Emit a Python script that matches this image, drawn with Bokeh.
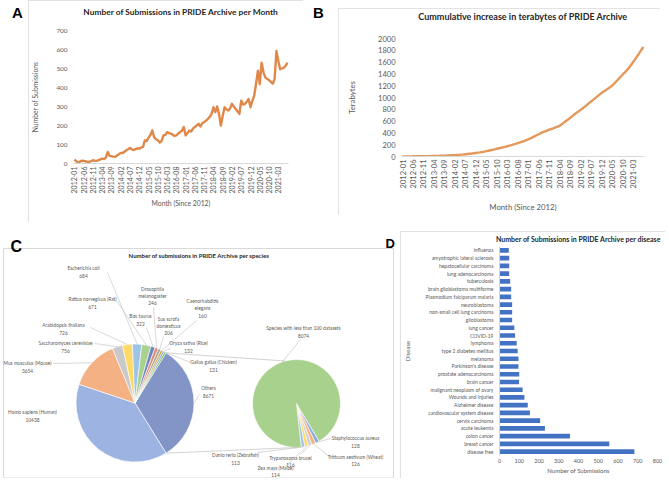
import numpy as np
from bokeh.plotting import figure
from bokeh.models import Range1d, FactorRange, FixedTicker, Div, Spacer, Title, AllLabels
from bokeh.layouts import row, column
from bokeh.embed import file_html
from bokeh.resources import INLINE
from bokeh.core.properties import value

# ---------------- DATA ----------------
# A: submissions per month, 2012-01 .. 2021-08
submissions_per_month = [
    21, 12, 3, 10, 15, 14, 12, 8, 9, 12, 17, 15,            # 2012
    14, 18, 22, 26, 24, 31, 61, 40, 38, 36, 35, 42,         # 2013
    49, 56, 55, 62, 70, 75, 82, 74, 71, 76, 80, 78,         # 2014
    84, 87, 122, 118, 136, 150, 174, 139, 128, 122, 110, 118,  # 2015
    148, 150, 165, 160, 157, 152, 145, 148, 158, 165, 172, 192,  # 2016
    148, 160, 174, 168, 185, 192, 200, 209, 195, 212, 218, 225,  # 2017
    235, 245, 261, 296, 270, 300, 261, 200, 250, 296, 285, 279,  # 2018
    290, 314, 300, 287, 275, 261, 331, 310, 314, 325, 340, 296,  # 2019
    330, 357, 420, 488, 418, 531, 480, 453, 445, 439, 430, 420,  # 2020
    444, 592, 540, 496, 500, 505, 515, 531,                      # 2021
]
# B: cumulative terabytes, 2012-01 .. 2021-08
terabytes_cumulative = [
    0, 1, 1, 2, 2, 3, 3, 4, 4, 5, 5, 6,
    6, 7, 8, 9, 10, 11, 12, 13, 15, 16, 18, 20,
    22, 24, 26, 28, 31, 34, 38, 42, 46, 50, 55, 60,
    65, 70, 76, 82, 90, 98, 106, 114, 122, 132, 140, 148,
    156, 164, 174, 184, 194, 204, 214, 226, 238, 250, 262, 276,
    290, 306, 324, 342, 360, 378, 396, 412, 426, 440, 454, 466,
    478, 492, 506, 520, 546, 574, 602, 628, 654, 684, 712, 740,
    762, 790, 818, 846, 874, 904, 932, 960, 990, 1020, 1048, 1076,
    1100, 1124, 1150, 1174, 1200, 1234, 1272, 1310, 1348, 1386, 1420, 1460,
    1500, 1548, 1596, 1646, 1700, 1752, 1806, 1856,
]
month_labels = [f"{2012 + i // 12}-{i % 12 + 1:02d}" for i in range(len(submissions_per_month))]
month_tick_every = 5
month_tick_last = "2021-03"
a_yticks = [0, 100, 200, 300, 400, 500, 600, 700]
b_yticks = [0, 200, 400, 600, 800, 1000, 1200, 1400, 1600, 1800, 2000]

# C: species (main pie, clockwise after "Others")
main_species = ["Homo sapiens (Human)", "Mus musculus (Mouse)", "Saccharomyces cerevisiae",
                "Arabidopsis thaliana", "Escherichia coli", "Rattus norvegicus (Rat)",
                "Bos taurus", "Drosophila melanogaster", "Sus scrofa domesticus",
                "Caenorhabditis elegans", "Oryza sativa (Rice)", "Gallus gallus (Chicken)"]
main_counts = [10438, 3654, 756, 726, 684, 671, 322, 246, 206, 160, 132, 131]
secondary_species = ["Staphylococcus aureus", "Triticum aestivum (Wheat)", "Trypanosoma brucei",
                     "Zea mays (Maize)", "Danio rerio (Zebrafish)",
                     "Species with less than 100 datasets"]
secondary_counts = [128, 126, 116, 114, 113, 8074]

# D: diseases (bottom to top)
diseases = ["disease free", "breast cancer", "colon cancer", "acute leukemia", "cervix carcinoma",
            "cardiovascular system disease", "Alzheimer disease", "Wounds and Injuries",
            "malignant neoplasm of ovary", "brain cancer", "prostate adenocarcinoma",
            "Parkinson's disease", "melanoma", "type 2 diabetes mellitus", "lymphoma", "COVID-19",
            "lung cancer", "glioblastoma", "non-small cell lung carcinoma", "neuroblastoma",
            "Plasmodium falciparum malaria", "brain glioblastoma multiforme", "tuberculosis",
            "lung adenocarcinoma", "hepatocellular carcinoma", "amyotrophic lateral sclerosis",
            "influenza"]
disease_counts = [683, 556, 357, 230, 206, 154, 143, 126, 117, 99, 100, 96, 96, 92, 87, 79,
                  75, 64, 64, 64, 59, 59, 54, 49, 49, 49, 47]
d_xticks = [0, 100, 200, 300, 400, 500, 600, 700, 800]

# ---------------- STYLE ----------------
FONT = "Lato"
TXT = "#595959"
TITLE_C = "#262626"
BOX = {"outline": "1px solid #d9d9d9", "outline-offset": "-1px"}


def base_style(p):
    p.grid.visible = False
    p.outline_line_color = None
    p.background_fill_color = "white"
    p.border_fill_color = "white"
    for ax in p.axis:
        ax.major_tick_line_color = None
        ax.minor_tick_line_color = None
        ax.major_tick_out = 0
        ax.major_tick_in = 0
        ax.minor_tick_out = 0
        ax.minor_tick_in = 0
        ax.major_label_text_font = FONT
        ax.major_label_text_color = TXT
        ax.major_label_policy = AllLabels()
        ax.axis_label_text_font = FONT
        ax.axis_label_text_color = TXT
        ax.axis_label_text_font_style = "normal"


def add_title(p, text, size, offset, gap):
    # blank white spacer title next to the frame, real title above it
    p.add_layout(Title(text=" ", text_font_size="1px", text_color="white",
                       standoff=max(gap - 3.2, 0)), "above")
    p.add_layout(Title(text=text, text_font=FONT, text_font_size=size, text_color=TITLE_C,
                       text_font_style="bold", align="center", offset=offset, standoff=0),
                 "above")


def line_panel(width, height, values, yticks, borders, ylabel, xtick_size, ytick_size,
               label_size, ylab_standoff, xlab_standoff, color):
    n = len(values)
    p = figure(width=width, height=height, x_range=Range1d(-0.5, n - 0.5),
               y_range=Range1d(yticks[0], yticks[-1]), output_backend="svg",
               toolbar_location=None, min_border_left=borders[0], min_border_right=borders[1],
               min_border_top=borders[2], min_border_bottom=borders[3], styles=BOX,
               x_axis_label="Month (Since 2012)", y_axis_label=ylabel)
    p.line(list(range(n)), values, line_color=color, line_width=2.4, line_join="round")
    base_style(p)
    ticks = list(range(0, month_labels.index(month_tick_last) + 1, month_tick_every))
    p.xaxis.ticker = FixedTicker(ticks=ticks)
    p.xaxis.major_label_overrides = {t: month_labels[t] for t in ticks}
    p.xaxis.major_label_orientation = np.pi / 2
    p.xaxis.axis_line_color = "#d9d9d9"
    p.xaxis.major_label_standoff = 3
    p.yaxis.ticker = FixedTicker(ticks=yticks)
    p.yaxis.axis_line_color = None
    p.yaxis.major_label_standoff = 6
    p.xaxis.major_label_text_font_size = xtick_size
    p.yaxis.major_label_text_font_size = ytick_size
    for ax in p.axis:
        ax.axis_label_text_font_size = label_size
    p.yaxis.axis_label_standoff = ylab_standoff
    p.xaxis.axis_label_standoff = xlab_standoff
    return p


# both line panels share top/bottom border sizes; B's canvas starts 8px lower
pA = line_panel(275, 222, submissions_per_month, a_yticks, (44, 15, 30, 59),
                "Number of Submissions", "7px", "6.4px", "6.8px", 14, 3, "#e0884a")
add_title(pA, "Number of Submissions in PRIDE Archive per Month", "8.4px", -14.5, 14)
pB = line_panel(322, 207, terabytes_cumulative, b_yticks, (63, 16, 30, 59),
                "Terabytes", "7.5px", "7.5px", "7.8px", 18, 11, "#e3985c")
add_title(pB, "Cummulative increase in terabytes of PRIDE Archive", "9px", -23.5, 17.5)

# ---------------- C: pie of pie (figure coords = page pixels, y negated) ----------------
C_BOX = (3, 393, 248, 477.5)     # left, right, top, bottom of the panel frame line
MAIN_C, MAIN_R = (134.5, 402.5), 59.0
SEC_C, SEC_R = (296.0, 403.0), 44.0
SEC_START = 149.0                # clockwise-from-top start of the first small slice
CONN_SEC = (345.0, 178.0)        # where connector lines meet the secondary pie
main_colors = ["#9db3e2", "#f4b183", "#c9c9c9", "#ffd966", "#9dc3e6", "#a9d18e",
               "#6f87c2", "#e08e6b", "#a5a5a5", "#d6a62a", "#6ba3d6", "#7cb658"]
others_color = "#8394c6"
sec_colors = ["#8faadc", "#f4b183", "#d0d0d0", "#ffd966", "#9dc3e6", "#a9d18e"]
wrap = {"Drosophila melanogaster": "Drosophila\nmelanogaster",
        "Caenorhabditis elegans": "Caenorhabditis\nelegans",
        "Sus scrofa domesticus": "Sus scrofa\ndomesticus"}
label_pos = {
    "Escherichia coli": ((83, 271.5), (107, 272)),
    "Rattus norvegicus (Rat)": ((92, 302.5), (116, 300)),
    "Drosophila melanogaster": ((152, 295.5), (153, 307)),
    "Caenorhabditis elegans": ((202, 308), (196, 320)),
    "Bos taurus": ((140, 319.5), (146, 327)),
    "Sus scrofa domesticus": ((168, 325.5), (163, 336)),
    "Arabidopsis thaliana": ((63, 328.5), (90, 327)),
    "Saccharomyces cerevisiae": ((65, 346.5), (94, 343)),
    "Oryza sativa (Rice)": ((188, 346.5), (170, 348)),
    "Gallus gallus (Chicken)": ((213, 365.5), (190, 362)),
    "Mus musculus (Mouse)": ((27, 366.5), (53, 363)),
    "Others": ((208, 391.5), (199, 394)),
    "Homo sapiens (Human)": ((32, 415.5), None),
    "Danio rerio (Zebrafish)": ((235, 458.5), (257, 452)),
    "Species with less than 100 datasets": ((303, 331.5), (300, 339)),
    "Staphylococcus aureus": ((355, 441.5), (330, 438)),
    "Triticum aestivum (Wheat)": ((355, 460), (330, 457)),
    "Trypanosoma brucei": ((290, 461), (300, 454)),
    "Zea mays (Maize)": ((275, 471), (285, 466)),
}

pC = figure(width=398, height=256, x_range=Range1d(0, 398), y_range=Range1d(-478, -222),
            output_backend="svg", toolbar_location=None, x_axis_type=None, y_axis_type=None,
            min_border=0)
pC.grid.visible = False
pC.outline_line_color = None
pC.quad(left=[C_BOX[0]], right=[C_BOX[1]], top=[-C_BOX[2]], bottom=[-C_BOX[3]],
        fill_color=None, line_color="#d9d9d9", line_width=1)

others_total = sum(secondary_counts)
main_total = sum(main_counts) + others_total


def pt(center, r, cw_deg):
    a = np.radians(cw_deg)
    return center[0] + r * np.sin(a), -center[1] + r * np.cos(a)


def wedges(center, r, counts, total, start_cw, colors):
    spans = []
    cw = start_cw
    for c in counts:
        d = c / total * 360.0
        spans.append((cw, cw + d))
        cw += d
    pC.wedge(x=center[0], y=-center[1], radius=r,
             start_angle=[np.radians(90 - b) for a, b in spans],
             end_angle=[np.radians(90 - a) for a, b in spans],
             fill_color=colors, line_color="white", line_width=0.6)
    return spans


others_deg = others_total / main_total * 360.0
main_spans = wedges(MAIN_C, MAIN_R, [others_total] + main_counts, main_total,
                    90 - others_deg / 2, [others_color] + main_colors)
sec_spans = wedges(SEC_C, SEC_R, secondary_counts, others_total, SEC_START, sec_colors)

# connector lines (pie of pie)
o_start, o_end = main_spans[0]
for cw_main, cw_sec in ((o_start, CONN_SEC[0]), (o_end, CONN_SEC[1])):
    x0, y0 = pt(MAIN_C, MAIN_R, cw_main)
    x1, y1 = pt(SEC_C, SEC_R, cw_sec)
    pC.line([x0, x1], [y0, y1], line_color="#bfbfbf", line_width=0.7)

# labels + leader lines
names = ["Others"] + main_species
counts_all = [others_total] + main_counts
lx, ly, lt, seg_x, seg_y = [], [], [], [], []
for group, center, r, spans, cnts in (
        (names, MAIN_C, MAIN_R, main_spans, counts_all),
        (secondary_species, SEC_C, SEC_R, sec_spans, secondary_counts)):
    for name, cnt, (a, b) in zip(group, cnts, spans):
        (cx, cy), lead = label_pos[name]
        lx.append(cx); ly.append(-cy); lt.append(wrap.get(name, name) + "\n" + str(cnt))
        if lead is not None:
            x0, y0 = pt(center, r, (a + b) / 2)
            seg_x.append([x0, lead[0]]); seg_y.append([y0, -lead[1]])
pC.multi_line(seg_x, seg_y, line_color="#bfbfbf", line_width=0.6)
pC.text(x=lx, y=ly, text=lt, text_font=value(FONT), text_font_size="4.8px",
        text_color=TXT, text_align="center", text_baseline="middle", text_line_height=1.2)
pC.text(x=[198.5], y=[-254.5], text=["Number of submissions in PRIDE Archive per species"],
        text_font=value(FONT), text_font_size="6px", text_font_style="bold",
        text_color=TITLE_C, text_align="center", text_baseline="middle")
# panel letters C and D (bottom-left corner of each glyph)
pC.text(x=[10, 385], y=[-246, -243], text=["C", "D"], text_font=value("Liberation Sans"),
        text_font_size=["16px", "13px"], text_font_style="bold", text_color="#000000",
        text_align="left", text_baseline="alphabetic")

# ---------------- D: bars ----------------
pD = figure(width=265, height=247, y_range=FactorRange(factors=diseases, range_padding=0),
            x_range=Range1d(d_xticks[0], d_xticks[-1]), output_backend="svg",
            toolbar_location=None, min_border_left=98, min_border_right=8,
            min_border_top=15, min_border_bottom=23, styles=BOX,
            x_axis_label="Number of Submissions", y_axis_label="Disease")
pD.hbar(y=diseases, right=disease_counts, height=0.6, fill_color="#4472c4", line_color=None)
base_style(pD)
pD.xaxis.ticker = FixedTicker(ticks=d_xticks)
pD.xaxis.axis_line_color = None
pD.yaxis.axis_line_color = "#d9d9d9"
pD.xaxis.major_label_text_font_size = "5.5px"
pD.yaxis.major_label_text_font_size = "5px"
pD.xaxis.major_label_standoff = 3
pD.yaxis.major_label_standoff = 6
pD.xaxis.axis_label_text_font_size = "6px"
pD.yaxis.axis_label_text_font_size = "6px"
pD.xaxis.axis_label_standoff = 1
pD.yaxis.axis_label_standoff = 12
add_title(pD, "Number of Submissions in PRIDE Archive per disease", "7px", -45, 4.5)

# ---------------- LAYOUT ----------------
LET = {"font-family": "Liberation Sans", "font-weight": "bold", "color": "#000"}


def letter(t, w, h, size, pad_left=0, pad_top=0):
    return Div(text=f"<div style='padding-left:{pad_left}px;padding-top:{pad_top}px;"
                    f"font-size:{size}px;line-height:1'>{t}</div>",
               width=w, height=h, margin=0, styles=LET)


top = row(letter("A", 28, 222, 15, 12, 5), pA, letter("B", 35, 222, 15, 10, 5),
          column(Spacer(width=322, height=8), pB, spacing=0), spacing=0)
bottom = row(pC, Spacer(width=2, height=10),
             column(Spacer(width=265, height=9), pD, spacing=0), spacing=0)
layout = column(top, bottom, spacing=0)

open("out.html", "w").write(file_html(layout, INLINE, "PRIDE Archive"))
